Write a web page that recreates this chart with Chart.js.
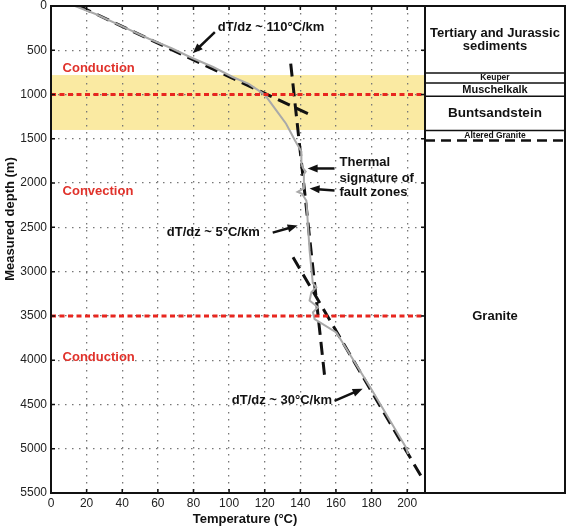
<!DOCTYPE html>
<html>
<head>
<meta charset="utf-8">
<script src="https://cdn.jsdelivr.net/npm/chart.js@4.4.0/dist/chart.umd.min.js"></script>
<style>
  html, body { margin: 0; padding: 0; background: #fff; }
  #wrap { width: 567px; height: 528px; }
</style>
</head>
<body>
<div id="wrap"><canvas id="profile" width="567" height="528"></canvas></div>
<script>
// measured temperature log (gray curve)
const logTemp = [13.5, 25, 40, 55, 68, 78, 91, 102, 111, 120, 126.5, 132, 137, 140.5, 140.6, 141.5, 143, 142, 142, 138.5, 141, 143.4, 145.2, 147, 149, 146.2, 145.2, 149.9, 147.1, 148, 160.2, 180, 199.4, 200.5];
const logDepth = [0, 90, 230, 370, 480, 576, 689, 802, 880, 1000, 1179, 1329, 1519, 1640, 1780, 1830, 1870, 1900, 2060, 2100, 2120, 2200, 2760, 3130, 3177, 3234, 3326, 3403, 3460, 3535, 3686, 4330, 4988, 5060];

// gradient fits (dashed)
const fit110Temp = [15.7, 146.2];
const fit110Depth = [0, 1235];
const fit5Temp = [134.6, 153.6];
const fit5Depth = [650, 4172];
const fit30Temp = [135.9, 208.8];
const fit30Depth = [2837, 5345];

const tempTicks = [0, 20, 40, 60, 80, 100, 120, 140, 160, 180, 200];
const depthTicks = [0, 500, 1000, 1500, 2000, 2500, 3000, 3500, 4000, 4500, 5000, 5500];

// regime boundaries and shaded zone
const regimeBounds = [1000, 3500];
const regimeNames = ["Conduction", "Convection", "Conduction"];
const regimeLabelDepth = [704, 2091, 3969];
const shadedZone = [780, 1400];

// lithology column
const layerNames = ["Tertiary and Jurassic|sediments", "Keuper", "Muschelkalk", "Buntsandstein", "Altered Granite", "Granite"];
const layerTops = [0, 756, 870, 1020, 1405, 1518];

const toXY = (t, d) => t.map((v, i) => ({ x: v, y: d[i] }));
const FONT = "'Liberation Sans', Arial, sans-serif";

const overlay = {
  id: "overlay",
  beforeDraw(chart) {
    const { ctx, chartArea: a, scales: { y } } = chart;
    ctx.save();
    ctx.fillStyle = "#faeaa2";
    const y0 = y.getPixelForValue(shadedZone[0]);
    const y1 = y.getPixelForValue(shadedZone[1]);
    ctx.fillRect(a.left, y0, a.right - a.left, y1 - y0);
    ctx.restore();
  },
  afterDatasetsDraw(chart) {
    const { ctx, chartArea: a, scales: { x, y } } = chart;
    const px = v => x.getPixelForValue(v);
    const py = v => y.getPixelForValue(v);
    ctx.save();

    // red regime lines
    ctx.strokeStyle = "#e8261f";
    ctx.lineWidth = 3;
    ctx.setLineDash([5, 3.5]);
    regimeBounds.forEach(d => {
      ctx.beginPath();
      ctx.moveTo(a.left, py(d));
      ctx.lineTo(a.right, py(d));
      ctx.stroke();
    });
    ctx.setLineDash([]);

    ctx.fillStyle = "#e0322b";
    ctx.font = "bold 13px " + FONT;
    ctx.textBaseline = "middle";
    ctx.textAlign = "left";
    regimeNames.forEach((n, i) => ctx.fillText(n, px(6.5), py(regimeLabelDepth[i])));

    // annotations
    ctx.fillStyle = "#111";
    ctx.fillText("dT/dz ~ 110°C/km", px(93.6), py(240));
    ctx.fillText("dT/dz ~ 5°C/km", px(65), py(2559));
    ctx.fillText("dT/dz ~ 30°C/km", px(101.5), py(4459));
    ctx.fillText("Thermal", px(162), py(1767));
    ctx.fillText("signature of", px(162), py(1948));
    ctx.fillText("fault zones", px(162), py(2106));

    const arrow = (t0, d0, t1, d1) => {
      const x0 = px(t0), y0 = py(d0), x1 = px(t1), y1 = py(d1);
      const ang = Math.atan2(y1 - y0, x1 - x0);
      const head = 10, wing = 4;
      ctx.strokeStyle = "#111";
      ctx.lineWidth = 2.5;
      ctx.beginPath();
      ctx.moveTo(x0, y0);
      ctx.lineTo(x1 - head * 0.8 * Math.cos(ang), y1 - head * 0.8 * Math.sin(ang));
      ctx.stroke();
      ctx.beginPath();
      ctx.moveTo(x1, y1);
      ctx.lineTo(x1 - head * Math.cos(ang) + wing * Math.sin(ang), y1 - head * Math.sin(ang) - wing * Math.cos(ang));
      ctx.lineTo(x1 - head * Math.cos(ang) - wing * Math.sin(ang), y1 - head * Math.sin(ang) + wing * Math.cos(ang));
      ctx.closePath();
      ctx.fill();
    };
    arrow(92, 296, 79.6, 534);
    arrow(124.5, 2559, 138.5, 2480);
    arrow(159.2, 4459, 175, 4323);
    arrow(159.2, 1835, 144.1, 1835);
    arrow(159.2, 2084, 145.2, 2061);

    // frame + inward ticks
    ctx.strokeStyle = "#111";
    ctx.lineWidth = 2;
    ctx.strokeRect(a.left, a.top, a.right - a.left, a.bottom - a.top);
    ctx.lineWidth = 1.5;
    ctx.beginPath();
    tempTicks.forEach(t => {
      ctx.moveTo(px(t), a.bottom); ctx.lineTo(px(t), a.bottom - 4);
      ctx.moveTo(px(t), a.top); ctx.lineTo(px(t), a.top + 4);
    });
    depthTicks.forEach(d => {
      ctx.moveTo(a.left, py(d)); ctx.lineTo(a.left + 4, py(d));
      ctx.moveTo(a.right, py(d)); ctx.lineTo(a.right - 4, py(d));
    });
    ctx.stroke();

    // lithology column
    const colL = a.right, colR = 565;
    ctx.lineWidth = 2;
    ctx.strokeRect(colL, a.top, colR - colL, a.bottom - a.top);
    ctx.lineWidth = 1.5;
    layerTops.forEach((d, i) => {
      if (i === 0) return;
      ctx.beginPath();
      if (i === layerTops.length - 1) { ctx.setLineDash([10, 6]); ctx.lineWidth = 2.5; }
      ctx.moveTo(colL, py(d));
      ctx.lineTo(colR, py(d));
      ctx.stroke();
      ctx.setLineDash([]);
    });
    const sizes = [13, 8.5, 11, 13.5, 8.5, 13];
    ctx.textAlign = "center";
    ctx.fillStyle = "#111";
    const cx = (colL + colR) / 2;
    layerNames.forEach((n, i) => {
      const top = layerTops[i];
      const bot = i < layerTops.length - 1 ? layerTops[i + 1] : 5500;
      const cy = py((top + bot) / 2);
      ctx.font = "bold " + sizes[i] + "px " + FONT;
      const lines = n.split("|");
      const lh = sizes[i];
      lines.forEach((l, k) => ctx.fillText(l, cx, cy + (k - (lines.length - 1) / 2) * lh));
    });

    // axis titles
    ctx.font = "bold 13px " + FONT;
    ctx.fillText("Temperature (°C)", 245, 519);
    ctx.translate(10, 219);
    ctx.rotate(-Math.PI / 2);
    ctx.fillText("Measured depth (m)", 0, 0);
    ctx.restore();
  }
};

new Chart(document.getElementById("profile"), {
  type: "scatter",
  data: {
    datasets: [
      {
        label: "Temperature log",
        data: toXY(logTemp, logDepth),
        showLine: true,
        borderColor: "#a9a9a9",
        borderWidth: 2,
        pointRadius: 0,
      },
      {
        label: "110 C/km",
        data: toXY(fit110Temp, fit110Depth),
        showLine: true,
        borderColor: "#111",
        borderWidth: 3,
        borderDash: [13, 7],
        pointRadius: 0,
      },
      {
        label: "5 C/km",
        data: toXY(fit5Temp, fit5Depth),
        showLine: true,
        borderColor: "#111",
        borderWidth: 3,
        borderDash: [13, 7],
        pointRadius: 0,
      },
      {
        label: "30 C/km",
        data: toXY(fit30Temp, fit30Depth),
        showLine: true,
        borderColor: "#111",
        borderWidth: 3,
        borderDash: [13, 7],
        pointRadius: 0,
      },
    ],
  },
  options: {
    responsive: false,
    animation: false,
    layout: { padding: { top: 6, right: 142, left: 0, bottom: 0 } },
    plugins: {
      legend: { display: false },
      tooltip: { enabled: false },
    },
    scales: {
      x: {
        type: "linear",
        min: 0,
        max: 210,
        afterFit: s => { s.height = 35; s.paddingLeft = 0; s.paddingRight = 0; },
        afterBuildTicks: s => { s.ticks = tempTicks.map(v => ({ value: v })); },
        ticks: { font: { size: 12, family: FONT }, color: "#222", padding: 3, maxRotation: 0 },
        grid: { color: "#777", lineWidth: 1.3, drawTicks: false },
        border: { display: false, dash: [1.5, 5.5] },
      },
      y: {
        type: "linear",
        reverse: true,
        min: 0,
        max: 5500,
        afterFit: s => { s.width = 51; s.paddingTop = 0; s.paddingBottom = 0; },
        afterBuildTicks: s => { s.ticks = depthTicks.map(v => ({ value: v })); },
        ticks: { font: { size: 12, family: FONT }, color: "#222", padding: 4, callback: v => String(v) },
        grid: { color: "#777", lineWidth: 1.3, drawTicks: false },
        border: { display: false, dash: [1.5, 5.5] },
      },
    },
  },
  plugins: [overlay],
});
</script>
</body>
</html>
